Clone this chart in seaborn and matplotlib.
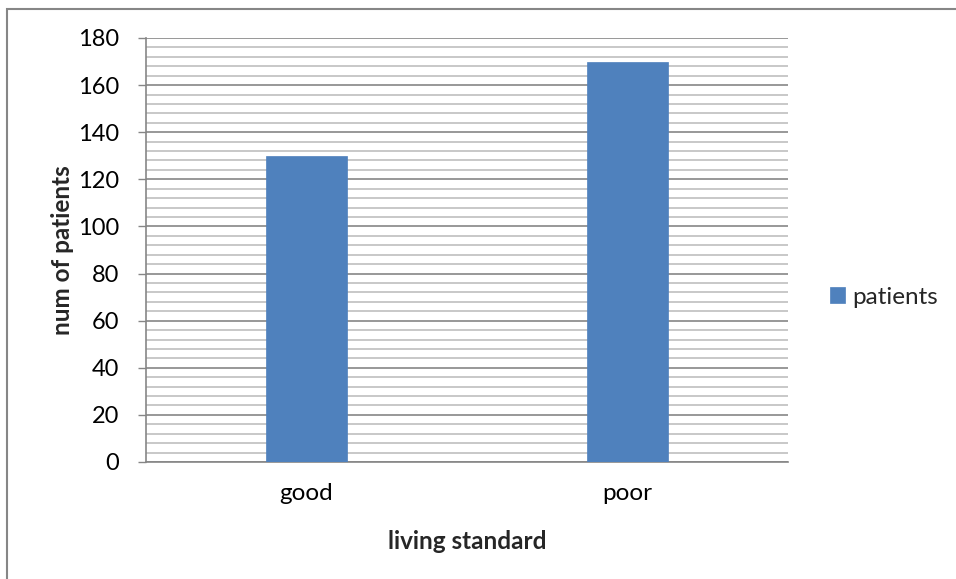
import matplotlib
matplotlib.use("Agg")
import matplotlib.pyplot as plt
from matplotlib.patches import Rectangle
from matplotlib.ticker import MultipleLocator
import seaborn as sns
import pandas as pd

categories = ["good", "poor"]
patients = [130, 170]
series_name = "patients"

sns.set_theme(style="white")
plt.rcParams["font.family"] = ["Lato", "DejaVu Sans"]

df = pd.DataFrame({"living standard": categories, series_name: patients})

W, H = 956, 579
fig = plt.figure(figsize=(W / 100, H / 100), dpi=100)
ax = fig.add_axes([146 / W, 1 - 462 / H, (788 - 146) / W, (462 - 38) / H])

bar_color = "#4F81BD"
sns.barplot(data=df, x="living standard", y=series_name, color=bar_color,
            saturation=1, width=0.25, ax=ax, label=series_name, zorder=3,
            edgecolor=bar_color, linewidth=0.5)

ax.set_xlim(-0.5, 1.5)
ax.set_ylim(0, 180)
ax.yaxis.set_major_locator(MultipleLocator(20))
ax.yaxis.set_minor_locator(MultipleLocator(4))
ax.grid(which="minor", axis="y", color="#BFBFBF", linewidth=1.2, zorder=0)
ax.grid(which="major", axis="y", color="#868686", linewidth=1.2, zorder=0)
ax.set_axisbelow(True)

for side in ("top", "right"):
    ax.spines[side].set_visible(False)
ax.spines["left"].set_color("#868686")
ax.spines["bottom"].set_color("#868686")
ax.spines["left"].set_linewidth(1.2)
ax.spines["bottom"].set_linewidth(1.2)

ax.tick_params(axis="y", which="major", direction="out", length=5.8, width=1,
               color="#868686", labelsize=17, pad=13.5, left=True)
ax.tick_params(axis="y", which="minor", left=False)
ax.tick_params(axis="x", length=0, labelsize=17.5, pad=15)
for lbl in ax.get_xticklabels() + ax.get_yticklabels():
    lbl.set_color("#000000")

ax.set_xlabel("living standard", fontsize=17.5, fontweight="bold")
ax.set_ylabel("num of patients", fontsize=17.5, fontweight="bold")
ax.xaxis.set_label_coords(0.5, -0.16)
ax.yaxis.set_label_coords(-0.112, 0.5)

leg = ax.legend(loc="center left", bbox_to_anchor=(830 / W, 1 - 297 / H),
                bbox_transform=fig.transFigure, frameon=False, fontsize=17.5,
                handlelength=0.6, handleheight=0.6, handletextpad=0.3,
                borderpad=0, borderaxespad=0)

# outer chart frame
fig.patches.append(Rectangle((7 / W, -0.1), 1.2, (1 - 9 / H) + 0.1,
                             transform=fig.transFigure, fill=False,
                             edgecolor="#868686", linewidth=1.5))

fig.savefig("out.png", dpi=100)
